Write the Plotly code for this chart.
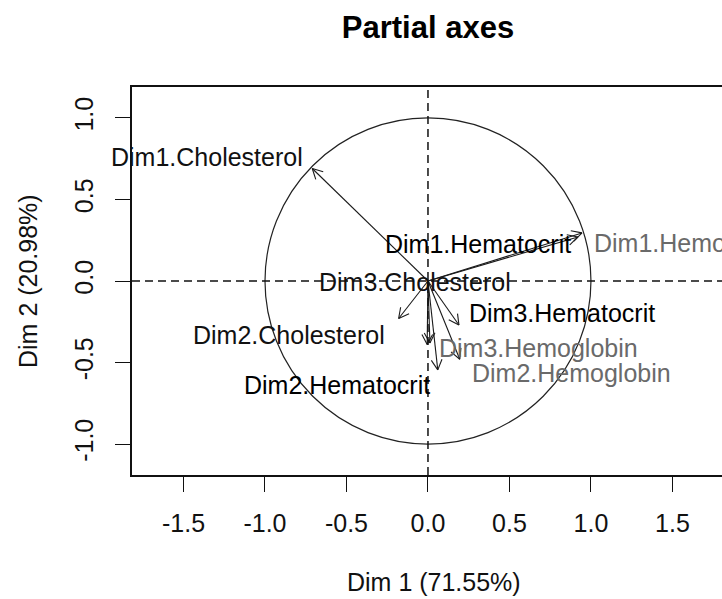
import numpy as np
import plotly.graph_objects as go

# ---- data ----
variables = ["Dim1.Cholesterol", "Dim1.Hematocrit", "Dim1.Hemoglobin",
             "Dim2.Cholesterol", "Dim2.Hematocrit", "Dim2.Hemoglobin",
             "Dim3.Cholesterol", "Dim3.Hematocrit", "Dim3.Hemoglobin"]
groups = ["Cholesterol", "Hematocrit", "Hemoglobin",
          "Cholesterol", "Hematocrit", "Hemoglobin",
          "Cholesterol", "Hematocrit", "Hemoglobin"]
coord_dim1 = [-0.71, 0.92, 0.945, -0.18, 0.06, 0.195, -0.005, 0.19, 0.012]
coord_dim2 = [0.69, 0.27, 0.295, -0.23, -0.545, -0.48, -0.39, -0.27, -0.38]

# label anchor positions (data units) and horizontal anchoring
label_x = [-0.755, 0.890, 1.006, -0.252, 0.025, 0.258, 0.521, 0.239, 0.055]
label_y = [0.761, 0.227, 0.233, -0.331, -0.638, -0.564, -0.006, -0.196, -0.411]
label_anchor = ["right", "right", "left", "right", "right", "left", "right", "left", "left"]

x_ticks = [-1.5, -1.0, -0.5, 0.0, 0.5, 1.0, 1.5]
x_tick_labels = ["-1.5", "-1.0", "-0.5", "0.0", "0.5", "1.0", "1.5"]
y_ticks = [-1.0, -0.5, 0.0, 0.5, 1.0]
y_tick_labels = ["-1.0", "-0.5", "0.0", "0.5", "1.0"]

title_text = "Partial axes"
x_title = "Dim 1 (71.55%)"
y_title = "Dim 2 (20.98%)"

# ---- styles ----
group_colors = {"Cholesterol": "#111111", "Hematocrit": "#000000", "Hemoglobin": "#6a6a6a"}
arrow_color = "#1a1a1a"
FONT = "Liberation Sans, Arial, sans-serif"
W, H = 722, 599
L, T, B = 132, 87, 124
x_range = [-1.816, 1.804]
y_range = [-1.19, 1.19]

fig = go.Figure()

# arrows (shaft + open V head), both axes share the same px/unit scale
head_len = 0.07
head_ang = np.deg2rad(28)
xs, ys = [], []
for x1, y1 in zip(coord_dim1, coord_dim2):
    xs += [0, x1, None]
    ys += [0, y1, None]
    ang = np.arctan2(y1, x1)
    for s in (1, -1):
        a = ang + np.pi + s * head_ang
        xs += [x1, x1 + head_len * np.cos(a), None]
        ys += [y1, y1 + head_len * np.sin(a), None]
fig.add_trace(go.Scatter(x=xs, y=ys, mode="lines",
                         line=dict(color=arrow_color, width=1.1),
                         hoverinfo="skip", showlegend=False))

# labels
for name, g, lx, ly, anc in zip(variables, groups, label_x, label_y, label_anchor):
    fig.add_annotation(x=lx, y=ly, xref="x", yref="y", text=name, showarrow=False,
                       xanchor=anc, yanchor="middle",
                       font=dict(family=FONT, size=25, color=group_colors[g]))

# unit circle and dashed zero lines
fig.add_shape(type="circle", xref="x", yref="y", x0=-1, y0=-1, x1=1, y1=1,
              line=dict(color="#222222", width=1.2), layer="below")
fig.add_shape(type="line", xref="x", yref="paper", x0=0, x1=0, y0=0, y1=1,
              line=dict(color="#111111", width=1.5, dash="8px,5px"))
fig.add_shape(type="line", xref="paper", yref="y", x0=0, x1=1, y0=0, y1=0,
              line=dict(color="#111111", width=1.5, dash="8px,5px"))

# axis titles
fig.add_annotation(text=x_title, xref="paper", yref="paper",
                   x=(434 - L) / (W - L), y=-(582 - (H - B)) / (H - B - T),
                   showarrow=False, xanchor="center", yanchor="middle",
                   font=dict(family=FONT, size=25, color="#111111"))
fig.add_annotation(text=y_title, xref="paper", yref="paper",
                   x=-(L - 28) / (W - L), y=0.5, textangle=-90,
                   showarrow=False, xanchor="center", yanchor="middle",
                   font=dict(family=FONT, size=25, color="#111111"))

fig.update_layout(
    width=W, height=H,
    margin=dict(l=L, r=0, t=T, b=B, autoexpand=False),
    paper_bgcolor="white", plot_bgcolor="white",
    title=dict(text="<b>" + title_text + "</b>", xref="container", yref="container",
               x=428 / W, y=1 - 27 / H, xanchor="center", yanchor="middle",
               font=dict(family=FONT, size=31, color="#000000")),
    xaxis=dict(range=x_range, tickmode="array", tickvals=x_ticks, ticktext=x_tick_labels,
               showgrid=False, zeroline=False, showline=True, mirror=True,
               linecolor="#111111", linewidth=1.6, ticks="outside", ticklen=15,
               tickwidth=1.4, tickcolor="#111111", ticklabelstandoff=10,
               tickfont=dict(family=FONT, size=25, color="#111111")),
    yaxis=dict(range=y_range, tickmode="array", tickvals=y_ticks, ticktext=y_tick_labels,
               showgrid=False, zeroline=False, showline=True, mirror=False,
               linecolor="#111111", linewidth=1.6, ticks="outside", ticklen=15,
               tickwidth=1.4, tickcolor="#111111", tickangle=-90, ticklabelstandoff=12,
               tickfont=dict(family=FONT, size=25, color="#111111")),
)

fig.write_html("out.html", config={"displayModeBar": False},
               post_script="document.body.style.margin='0';document.body.style.overflow='hidden';")
